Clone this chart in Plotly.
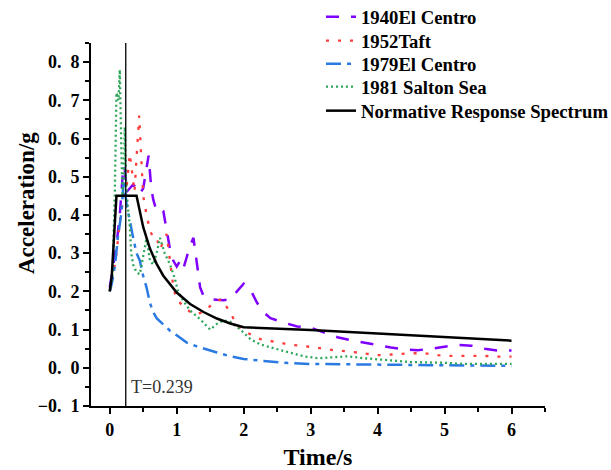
import plotly.graph_objects as go

# ---------------- data ----------------
t_1940 = [0, 0.05, 0.1, 0.15, 0.2, 0.22, 0.25, 0.3, 0.35, 0.4, 0.45, 0.5, 0.55, 0.58, 0.62,
          0.65, 0.7, 0.75, 0.8, 0.85, 0.9, 0.95, 1.0, 1.05, 1.1, 1.15, 1.2, 1.25, 1.3, 1.35,
          1.4, 1.5, 1.6, 1.7, 1.8, 1.9, 2.0, 2.1, 2.2, 2.3, 2.4, 2.6, 2.8, 3.0, 3.2, 3.4,
          3.6, 3.8, 4.0, 4.2, 4.4, 4.6, 4.8, 5.0, 5.2, 5.4, 5.6, 5.8, 6.0]
a_1940 = [0.21, 0.26, 0.32, 0.40, 0.52, 0.53, 0.46, 0.47, 0.48, 0.47, 0.455, 0.47, 0.53, 0.555, 0.47,
          0.44, 0.41, 0.415, 0.41, 0.355, 0.31, 0.28, 0.265, 0.28, 0.26, 0.29, 0.32, 0.34, 0.275, 0.21,
          0.188, 0.18, 0.178, 0.177, 0.18, 0.20, 0.22, 0.205, 0.17, 0.145, 0.13, 0.118, 0.108, 0.105, 0.093, 0.08,
          0.072, 0.065, 0.06, 0.053, 0.048, 0.046, 0.05, 0.056, 0.06, 0.058, 0.05, 0.045, 0.045]

t_1952 = [0, 0.05, 0.1, 0.15, 0.2, 0.25, 0.3, 0.33, 0.37, 0.4, 0.44, 0.47, 0.5, 0.55, 0.6,
          0.65, 0.7, 0.75, 0.8, 0.85, 0.9, 0.95, 1.0, 1.1, 1.25, 1.4, 1.55, 1.67, 1.8, 1.9,
          2.05, 2.25, 2.5, 2.7, 2.9, 3.1, 3.35, 3.6, 3.8, 4.0, 4.25, 4.5, 4.7, 4.9, 5.1,
          5.35, 5.6, 5.8, 6.0]
a_1952 = [0.2, 0.24, 0.30, 0.38, 0.44, 0.47, 0.56, 0.52, 0.46, 0.55, 0.66, 0.55, 0.45, 0.40, 0.36,
          0.34, 0.34, 0.31, 0.33, 0.35, 0.28, 0.21, 0.18, 0.16, 0.14, 0.145, 0.17, 0.18, 0.145, 0.11,
          0.092, 0.075, 0.067, 0.06, 0.057, 0.052, 0.046, 0.042, 0.037, 0.033, 0.035, 0.038, 0.038, 0.033, 0.031,
          0.031, 0.031, 0.029, 0.029]

t_1979 = [0, 0.03, 0.08, 0.12, 0.17, 0.21, 0.25, 0.3, 0.35, 0.4, 0.45, 0.5, 0.55, 0.6, 0.65,
          0.7, 0.8, 0.9, 1.0, 1.15, 1.3, 1.45, 1.6, 1.8, 2.0, 2.3, 2.6, 3.0, 3.5, 4.0, 4.5,
          5.0, 5.5, 6.0]
a_1979 = [0.2, 0.22, 0.27, 0.34, 0.40, 0.49, 0.43, 0.38, 0.34, 0.30, 0.28, 0.24, 0.21, 0.17, 0.145,
          0.13, 0.114, 0.097, 0.085, 0.066, 0.056, 0.047, 0.04, 0.03, 0.023, 0.018, 0.013, 0.01, 0.009, 0.008, 0.007,
          0.006, 0.006, 0.005]

t_1981 = [0, 0.04, 0.075, 0.1, 0.13, 0.15, 0.17, 0.19, 0.21, 0.225, 0.24, 0.27, 0.3, 0.32, 0.35,
          0.4, 0.45, 0.5, 0.55, 0.6, 0.65, 0.7, 0.75, 0.82, 0.9, 0.97, 1.02, 1.1, 1.2, 1.35,
          1.5, 1.6, 1.7, 1.8, 1.95, 2.1, 2.25, 2.45, 2.67, 2.9, 3.12, 3.35, 3.55, 3.8, 4.0,
          4.5, 5.0, 5.3, 6.0]
a_1981 = [0.2, 0.24, 0.45, 0.72, 0.70, 0.78, 0.60, 0.45, 0.50, 0.63, 0.50, 0.42, 0.37, 0.30, 0.27,
          0.25, 0.245, 0.29, 0.34, 0.28, 0.27, 0.30, 0.34, 0.30, 0.27, 0.235, 0.20, 0.175, 0.15, 0.127,
          0.10, 0.115, 0.124, 0.12, 0.10, 0.075, 0.061, 0.051, 0.04, 0.03, 0.025, 0.028, 0.03, 0.025, 0.022,
          0.015, 0.013, 0.01, 0.01]

t_norm = [0, 0.03, 0.06, 0.1, 0.4, 0.5, 0.6, 0.7, 0.8, 1.0, 1.2, 1.4, 1.6, 1.8, 2.0,
          2.5, 3.0, 4.0, 5.0, 6.0]
a_norm = [0.2, 0.24, 0.33, 0.45, 0.45, 0.368, 0.312, 0.272, 0.241, 0.197, 0.167, 0.146, 0.129, 0.116, 0.106,
          0.103, 0.099, 0.09, 0.081, 0.071]

T_mark = 0.239

y_tickvals = [-0.1, 0.0, 0.1, 0.2, 0.3, 0.4, 0.5, 0.6, 0.7, 0.8]
y_ticktext = ["\u22120.\u20021", "0.\u20020", "0.\u20021", "0.\u20022", "0.\u20023",
              "0.\u20024", "0.\u20025", "0.\u20026", "0.\u20027", "0.\u20028"]
x_tickvals = [0, 1, 2, 3, 4, 5, 6]

SERIF = "Liberation Serif, Times New Roman, serif"
W, H = 611, 470
PLOT_LEFT, PLOT_RIGHT = 91, 545
PLOT_TOP, PLOT_BOTTOM = 43, 406


def paper_x(px):
    return (px - PLOT_LEFT) / (PLOT_RIGHT - PLOT_LEFT)


def paper_y(px):
    return (PLOT_BOTTOM - px) / (PLOT_BOTTOM - PLOT_TOP)


fig = go.Figure()
series = [
    (t_1940, a_1940, "1940El Centro", dict(color="#8000ff", width=2.5, dash="13px,12px")),
    (t_1952, a_1952, "1952Taft", dict(color="#ff3c3c", width=2.3, dash="3px,9px")),
    (t_1979, a_1979, "1979El Centro", dict(color="#2a7ae2", width=2.5, dash="15px,6px,4px,6px")),
    (t_1981, a_1981, "1981 Salton Sea", dict(color="#2ea65a", width=2.3, dash="2px,3px")),
    (t_norm, a_norm, "Normative Response Spectrum", dict(color="black", width=2.5)),
]
legend_centers = [17, 41, 64, 87, 111]
legend_names = ["legend", "legend2", "legend3", "legend4", "legend5"]

for (tx, ay, name, line), lg in zip(series, legend_names):
    fig.add_trace(go.Scatter(x=tx, y=ay, mode="lines", name=name, line=line, legend=lg))

legend_layout = {}
for lg, cy in zip(legend_names, legend_centers):
    legend_layout[lg] = dict(x=paper_x(321), y=paper_y(cy), xanchor="left", yanchor="middle",
                             bgcolor="rgba(0,0,0,0)",
                             font=dict(family=SERIF, size=18.7, color="black", weight="bold"))

fig.add_shape(type="line", xref="x", yref="paper", x0=T_mark, x1=T_mark, y0=0, y1=1,
              line=dict(color="black", width=1.3))
fig.add_annotation(x=T_mark, y=-0.05, xref="x", yref="y", text="T=0.239", showarrow=False,
                   xanchor="left", xshift=3, font=dict(family=SERIF, size=18, color="#333333"))
fig.add_annotation(x=paper_x(26), y=paper_y(203), xref="paper", yref="paper",
                   xanchor="center", yanchor="middle", text="Acceleration/g",
                   showarrow=False, textangle=-90,
                   font=dict(family=SERIF, size=23, color="black", weight="bold"))

fig.update_layout(
    width=W, height=H,
    margin=dict(l=PLOT_LEFT, r=W - PLOT_RIGHT, t=PLOT_TOP, b=H - PLOT_BOTTOM, autoexpand=False),
    paper_bgcolor="white", plot_bgcolor="white",
    font=dict(family=SERIF, color="black"),
    showlegend=True,
    xaxis=dict(range=[-0.28, 6.5], tickvals=x_tickvals, ticks="outside", ticklen=6, tickwidth=2,
               tickcolor="black", showline=True, linecolor="black", linewidth=2,
               showgrid=False, zeroline=False,
               tickfont=dict(family=SERIF, size=18, color="black", weight="bold"),
               minor=dict(ticks="outside", ticklen=4, tickwidth=1.5, tickcolor="black",
                          tick0=0, dtick=0.5, showgrid=False),
               title=dict(text="Time/s", font=dict(family=SERIF, size=24, color="black", weight="bold"),
                          standoff=10)),
    yaxis=dict(range=[-0.1, 0.85], tickvals=y_tickvals, ticktext=y_ticktext, ticks="outside",
               ticklen=6, tickwidth=2, tickcolor="black", showline=True, linecolor="black",
               linewidth=2, showgrid=False, zeroline=False,
               tickfont=dict(family=SERIF, size=18, color="black", weight="bold"),
               minor=dict(ticks="outside", ticklen=4, tickwidth=1.5, tickcolor="black",
                          tick0=0, dtick=0.05, showgrid=False)),
    **legend_layout,
)

fig.write_html("out.html")
